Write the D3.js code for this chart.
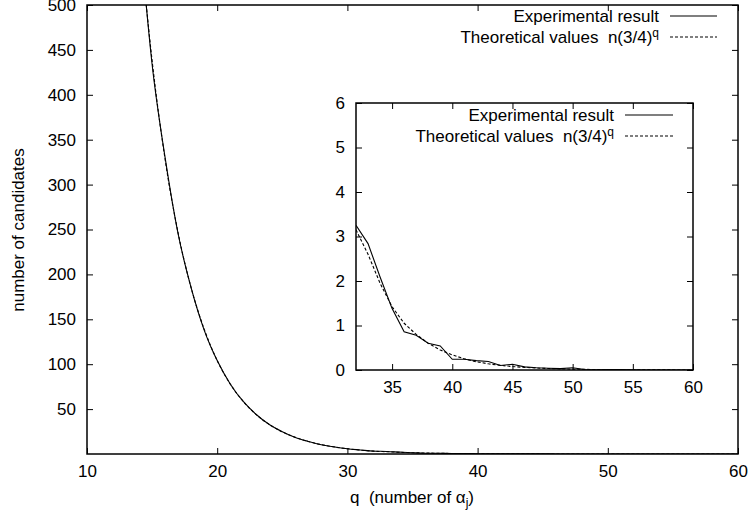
<!DOCTYPE html>
<html>
<head>
<meta charset="utf-8">
<script src="https://cdn.jsdelivr.net/npm/d3@7"></script>
<style>
  body { margin: 0; background: #fff; }
  svg { display: block; font-family: "Liberation Sans", Arial, sans-serif; }
  text { fill: #000; white-space: pre; }
</style>
</head>
<body>
<svg id="chart" width="750" height="512"></svg>
<script>
// q values (number of alpha_j)
const qValues = [14, 15, 16, 17, 18, 19, 20, 21, 22, 23, 24, 25, 26, 27, 28, 29, 30, 31,
  32, 33, 34, 35, 36, 37, 38, 39, 40, 41, 42, 43, 44, 45, 46, 47, 48, 49, 50,
  51, 52, 53, 54, 55, 56, 57, 58, 59, 60]

// number of candidates, measured
const experimental = [590, 434, 330, 245, 185, 138, 104, 78, 58.5, 44, 32.8, 24.8, 18.4, 14, 10.3, 7.9, 5.8, 4.5,
  3.25, 2.84, 2.09, 1.38, 0.86, 0.78, 0.6, 0.54, 0.24, 0.24, 0.21, 0.19, 0.1, 0.13, 0.07, 0.05, 0.04, 0.03, 0.05,
  0.01, 0.005, 0.01, 0.01, 0.005, 0, 0, 0, 0, 0]

// n(3/4)^q
const theoretical = [584, 438, 328, 246, 185, 139, 104, 78, 58.5, 43.8, 32.9, 24.7, 18.5, 13.9, 10.4, 7.8, 5.85, 4.39,
  3.15, 2.6, 1.95, 1.42, 1.05, 0.8, 0.6, 0.45, 0.34, 0.25, 0.185, 0.139, 0.104, 0.078, 0.059, 0.044, 0.033, 0.025, 0.019,
  0.014, 0.01, 0.008, 0.006, 0.004, 0.003, 0.0025, 0.002, 0.0014, 0.001]

const mainXTicks = [10, 20, 30, 40, 50, 60]
const mainYTicks = [50, 100, 150, 200, 250, 300, 350, 400, 450, 500]
const insetXTicks = [35, 40, 45, 50, 55, 60]
const insetYTicks = [0, 1, 2, 3, 4, 5, 6]

const series = [
  {name: 'Experimental result', values: experimental, dash: null},
  {name: 'Theoretical values  n(3/4)', sup: 'q', values: theoretical, dash: '3,2'}
]

const svg = d3.select('#chart')
const fontSize = 17
const tickLen = 6
const fmt = d3.format('d')

function drawPanel (cfg) {
  var g = svg.append('g')
  var x = d3.scaleLinear().domain(cfg.xDomain).range([cfg.left, cfg.right])
  var y = d3.scaleLinear().domain(cfg.yDomain).range([cfg.bottom, cfg.top])

  g.append('rect')
    .attr('x', cfg.left).attr('y', cfg.top)
    .attr('width', cfg.right - cfg.left).attr('height', cfg.bottom - cfg.top)
    .attr('fill', '#fff')

  // ticks on all four sides, pointing inward
  var xAxisB = d3.axisBottom(x).tickValues(cfg.xTicks).tickSizeInner(-tickLen).tickSizeOuter(0).tickPadding(11).tickFormat(fmt)
  var xAxisT = d3.axisTop(x).tickValues(cfg.xTicks).tickSizeInner(-tickLen).tickSizeOuter(0).tickFormat('')
  var yAxisL = d3.axisLeft(y).tickValues(cfg.yTicks).tickSizeInner(-tickLen).tickSizeOuter(0).tickPadding(11).tickFormat(fmt)
  var yAxisR = d3.axisRight(y).tickValues(cfg.yTicks).tickSizeInner(-tickLen).tickSizeOuter(0).tickFormat('')

  var axes = [
    [xAxisB, 'translate(0,' + cfg.bottom + ')'],
    [xAxisT, 'translate(0,' + cfg.top + ')'],
    [yAxisL, 'translate(' + cfg.left + ',0)'],
    [yAxisR, 'translate(' + cfg.right + ',0)']
  ]
  axes.forEach(function (a) {
    var ax = g.append('g').attr('transform', a[1]).call(a[0])
    ax.select('.domain').remove()
    ax.selectAll('line').attr('stroke', '#000').attr('stroke-width', 1)
    ax.selectAll('text').attr('font-size', fontSize).attr('font-family', null).attr('fill', '#000')
  })

  var clipId = 'clip-' + cfg.id
  g.append('clipPath').attr('id', clipId)
    .append('rect')
    .attr('x', cfg.left).attr('y', cfg.top)
    .attr('width', cfg.right - cfg.left).attr('height', cfg.bottom - cfg.top)

  var line = d3.line()
    .curve(cfg.curve)
    .x(function (d) { return x(d[0]) })
    .y(function (d) { return y(d[1]) })

  series.forEach(function (s) {
    var pts = qValues.map(function (q, i) { return [q, s.values[i]] })
      .filter(function (d) { return d[0] >= cfg.xDomain[0] })
    g.append('path')
      .datum(pts)
      .attr('clip-path', 'url(#' + clipId + ')')
      .attr('fill', 'none')
      .attr('stroke', '#000')
      .attr('stroke-width', 1.1)
      .attr('stroke-dasharray', s.dash)
      .attr('d', line)
  })

  // legend
  series.forEach(function (s, i) {
    var ly = cfg.legendY + i * 21
    var t = g.append('text')
      .attr('x', cfg.legendTextX).attr('y', ly)
      .attr('dy', '0.35em')
      .attr('text-anchor', 'end')
      .attr('font-size', fontSize)
      .text(s.name)
    if (s.sup) {
      t.append('tspan').attr('dy', -6).attr('font-size', 12).text(s.sup)
    }
    g.append('line')
      .attr('x1', cfg.legendLineX[0]).attr('x2', cfg.legendLineX[1])
      .attr('y1', ly).attr('y2', ly)
      .attr('stroke', '#000').attr('stroke-width', 1.1)
      .attr('stroke-dasharray', s.dash)
  })

  g.append('rect')
    .attr('x', cfg.left).attr('y', cfg.top)
    .attr('width', cfg.right - cfg.left).attr('height', cfg.bottom - cfg.top)
    .attr('fill', 'none').attr('stroke', '#000').attr('stroke-width', 1.5)

  return g
}

drawPanel({
  id: 'main', left: 87, right: 738, top: 5, bottom: 454,
  xDomain: [10, 60], yDomain: [0, 500],
  xTicks: mainXTicks, yTicks: mainYTicks,
  curve: d3.curveMonotoneX,
  legendY: 16, legendTextX: 659, legendLineX: [670, 717]
})

drawPanel({
  id: 'inset', left: 356, right: 693, top: 103, bottom: 370,
  xDomain: [32, 60], yDomain: [0, 6],
  xTicks: insetXTicks, yTicks: insetYTicks,
  curve: d3.curveLinear,
  legendY: 115, legendTextX: 614, legendLineX: [625, 673]
})

// axis titles
const xTitle = svg.append('text')
  .attr('x', 412).attr('y', 503)
  .attr('text-anchor', 'middle')
  .attr('font-size', fontSize)
  .text('q  (number of α')
xTitle.append('tspan').attr('dy', 4).attr('font-size', 12).text('j')
xTitle.append('tspan').attr('dy', -4).text(')')

svg.append('text')
  .attr('transform', 'translate(18,230) rotate(-90)')
  .attr('dy', '0.35em')
  .attr('text-anchor', 'middle')
  .attr('font-size', fontSize)
  .text('number of candidates')
</script>
</body>
</html>
